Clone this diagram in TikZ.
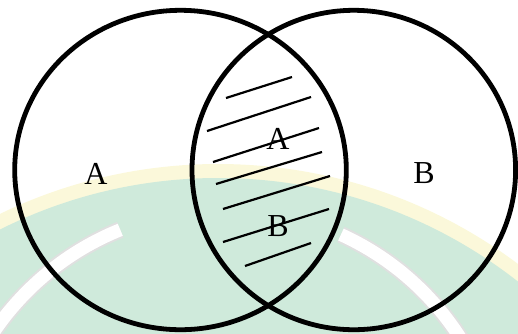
\documentclass[tikz,border=0pt]{standalone}
\usepackage{fontspec}
\setmainfont{Liberation Serif}
\usetikzlibrary{positioning}
\definecolor{wmgreen}{HTML}{CFEADB}
\definecolor{wmyellow}{HTML}{FBF8DA}
\definecolor{wmgrey}{HTML}{E0E0E0}

\begin{document}
\begin{tikzpicture}[x=0.5pt, y=-0.5pt,
      setline/.style={line width=2.4pt},
      hatch/.style={line width=1.1pt},
      lbl/.style={font=\fontsize{16}{19}\selectfont, inner sep=0pt}
    ]
      \useasboundingbox (0,0) rectangle (518,333);

      % faint watermark behind the sets
      \begin{scope}
        \clip (0,0) rectangle (518,333);
        \fill[wmyellow] (218,664) circle [radius=500];
        \fill[wmgreen] (218,664) circle [radius=486];
        \draw[wmgrey, line width=8.5pt] (225,489) ++(180:279.6) arc[start angle=180, end angle=248, radius=279.6];
        \draw[white, line width=6.5pt] (225,489) ++(180:279.6) arc[start angle=180, end angle=248, radius=279.6];
        \draw[wmgrey, line width=8.5pt] (225,489) ++(294.5:279.6) arc[start angle=294.5, end angle=360, radius=279.6];
        \draw[white, line width=6.5pt] (225,489) ++(294.5:279.6) arc[start angle=294.5, end angle=360, radius=279.6];
      \end{scope}

      % the two sets
      \draw[setline] (180.5,170) ellipse [x radius=165.8, y radius=159.7];
      \draw[setline] (353.8,170) ellipse [x radius=161.8, y radius=159.7];

      % hatching of the intersection
      \foreach \xa/\ya/\xb/\yb in {226/98/292/77, 207/131/311/97, 213/162/319/128,
                                   216/184/322/152, 223/209/330/176, 223/242/329/209,
                                   245/266/311/243}
        \draw[hatch] (\xa,\ya) -- (\xb,\yb);

      \node[lbl] (setA) at (96,174) {A};
      \node[lbl] (setB) at (424,173) {B};
      \node[lbl] (capA) at (278,139) {A};
      \node[lbl] (capB) at (278,226) {B};
    \end{tikzpicture}
\end{document}
